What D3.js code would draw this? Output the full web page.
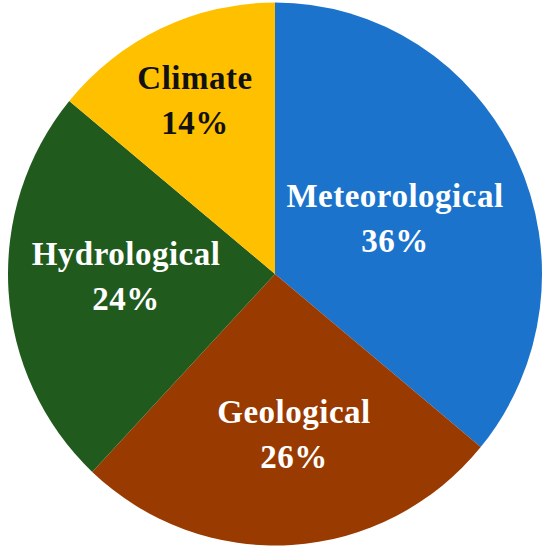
<!DOCTYPE html>
<html>
<head>
<meta charset="utf-8">
<script src="https://cdn.jsdelivr.net/npm/d3@7"></script>
<style>
  html, body { margin: 0; padding: 0; background: #ffffff; }
  svg { display: block; }
</style>
</head>
<body>
<svg id="chart" width="550" height="553"></svg>
<script>
// ---- data ----
const categories = ["Meteorological", "Geological", "Hydrological", "Climate"];
const shares = [36, 26, 24, 14];
const percentLabels = ["36%", "26%", "24%", "14%"];

// ---- styling / layout (kept separate from data) ----
const colors = ["#1b73cc", "#993a00", "#215a1d", "#ffc000"];
const textColors = ["#ffffff", "#ffffff", "#ffffff", "#111111"];
// label block centre offsets from the pie centre, per slice
const labelOffsets = [[120, -55], [19, 161], [-149, 3], [-80, -173]];

const cx = 275, cy = 274, r = 267, yScale = 1.017;

const svg = d3.select("#chart");
const g = svg.append("g")
  .attr("transform", `translate(${cx},${cy}) scale(1,${yScale})`);

const pie = d3.pie().sort(null).value(d => d.value);
const data = categories.map((c, i) => ({ name: c, value: shares[i], pct: percentLabels[i], i }));
const arcs = pie(data);
const arc = d3.arc().innerRadius(0).outerRadius(r);

g.selectAll("path.slice")
  .data(arcs)
  .join("path")
  .attr("class", "slice")
  .attr("d", arc)
  .attr("fill", d => colors[d.data.i]);

const labels = svg.append("g").attr("transform", `translate(${cx},${cy})`);
const fontSize = 33;
const lineGap = 45;

arcs.forEach(d => {
  const [x, y] = labelOffsets[d.data.i];
  const t = labels.append("text")
    .attr("x", x)
    .attr("y", y)
    .attr("text-anchor", "middle")
    .attr("font-family", "'Liberation Serif', 'Times New Roman', serif")
    .attr("font-weight", "bold")
    .attr("font-size", fontSize)
    .attr("letter-spacing", 0.5)
    .attr("fill", textColors[d.data.i]);
  t.append("tspan").attr("x", x).attr("dy", -11.65).text(d.data.name);
  t.append("tspan").attr("x", x).attr("dy", lineGap).text(d.data.pct);
});
</script>
</body>
</html>
